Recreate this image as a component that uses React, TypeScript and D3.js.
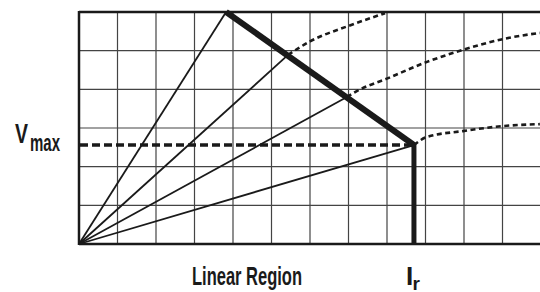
import React from 'react';
import * as d3 from 'd3';

// grid is 12 columns by 6 rows, values in grid units
const gridCols = d3.range(0, 13);
const gridRows = d3.range(0, 7);

const vMax = 2.56;
const iR = 8.7;

// thick limit line, from top of chart down to (Ir, Vmax)
const limitLine: [number, number][] = [[3.82, 6], [8.7, 2.56]];

// load lines from origin to the limit line
const loadEnds: [number, number][] = [[3.82, 6], [5.43, 4.89], [6.96, 3.8], [8.7, 2.56]];

// dotted continuations beyond the limit
const curveA: [number, number][] = [[5.43, 4.89], [6.0, 5.24], [7.0, 5.64], [7.95, 5.97]];
const curveB: [number, number][] = [[6.96, 3.8], [7.17, 3.93], [8.03, 4.29], [9.04, 4.71], [9.97, 5.02], [11.01, 5.3], [11.97, 5.46]];
const curveC: [number, number][] = [[8.7, 2.56], [9.04, 2.77], [9.97, 2.92], [11.01, 3.05], [11.97, 3.1]];
const dottedCurves = [curveA, curveB, curveC];

const W = 540, H = 292;

export default function App() {
  const x = d3.scaleLinear().domain([0, 12]).range([79, 541]);
  const y = d3.scaleLinear().domain([0, 6]).range([244, 12]);

  const line = d3.line<[number, number]>().x(d => x(d[0])).y(d => y(d[1]));
  const curve = d3.line<[number, number]>().x(d => x(d[0])).y(d => y(d[1])).curve(d3.curveMonotoneX);

  const font = '"Liberation Sans Narrow", "Arial Narrow", sans-serif';

  return (
    <svg width={W} height={H} style={{ position: 'absolute', left: 0, top: 0, background: '#fff' }}>
      {/* grid */}
      {gridCols.map(c => (
        <line key={'c' + c} x1={x(c)} x2={x(c)} y1={y(0)} y2={y(6)} stroke="#444" strokeWidth={1.2} />
      ))}
      {gridRows.map(r => (
        <line key={'r' + r} x1={x(0)} x2={x(12)} y1={y(r)} y2={y(r)} stroke="#444" strokeWidth={1.2} />
      ))}
      {/* frame */}
      <line x1={x(0)} x2={x(12)} y1={y(6)} y2={y(6)} stroke="#1a1a1a" strokeWidth={2.5} />
      <line x1={x(0)} x2={x(12)} y1={y(0)} y2={y(0)} stroke="#1a1a1a" strokeWidth={2.5} />
      <line x1={x(0)} x2={x(0)} y1={y(0) + 1} y2={y(6) - 1} stroke="#1a1a1a" strokeWidth={2.5} />

      {/* dotted curves */}
      {dottedCurves.map((c, i) => (
        <path key={'d' + i} d={curve(c) || ''} fill="none" stroke="#1a1a1a" strokeWidth={2.6} strokeDasharray="5,3.5" />
      ))}

      {/* load lines */}
      {loadEnds.map((e, i) => (
        <path key={'l' + i} d={line([[0, 0], e]) || ''} fill="none" stroke="#1a1a1a" strokeWidth={1.8} />
      ))}

      {/* Vmax dashed */}
      <line x1={x(0) + 1} x2={x(iR)} y1={y(vMax)} y2={y(vMax)} stroke="#1a1a1a" strokeWidth={3.5} strokeDasharray="8,4" />

      {/* limit */}
      <path d={line(limitLine) || ''} fill="none" stroke="#1a1a1a" strokeWidth={6} />
      <line x1={x(iR)} x2={x(iR)} y1={y(vMax) - 2} y2={y(0)} stroke="#1a1a1a" strokeWidth={5} />

      {/* labels */}
      <text x={15} y={143} fontFamily={font} fontSize={27} fontWeight="bold" fill="#1a1a1a" textLength={13} lengthAdjust="spacingAndGlyphs">V</text>
      <text x={30} y={151} fontFamily={font} fontSize={23} fontWeight="bold" fill="#1a1a1a" textLength={30} lengthAdjust="spacingAndGlyphs">max</text>
      <text x={192} y={285} fontFamily={font} fontSize={26} fontWeight="bold" fill="#1a1a1a" textLength={110} lengthAdjust="spacingAndGlyphs">Linear Region</text>
      <text x={406} y={285} fontFamily={font} fontSize={26} fontWeight="bold" fill="#1a1a1a">I</text>
      <text x={412.5} y={290} fontFamily={font} fontSize={19} fontWeight="bold" fill="#1a1a1a">r</text>
    </svg>
  );
}
